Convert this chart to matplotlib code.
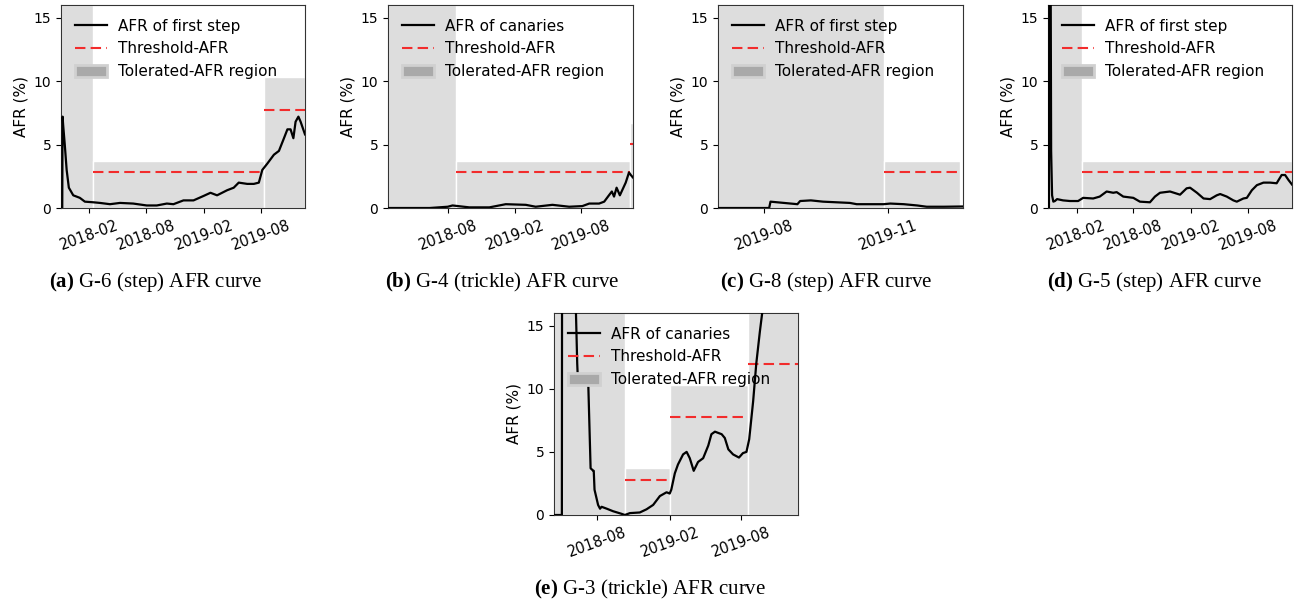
import numpy as np
import pandas as pd
import matplotlib
matplotlib.use("Agg")
import matplotlib.pyplot as plt
import matplotlib.dates as mdates
from matplotlib.lines import Line2D
from matplotlib.patches import Patch

plt.rcParams['font.family'] = 'DejaVu Sans'
plt.rcParams['font.size'] = 10
plt.rcParams['mathtext.fontset'] = 'custom'
plt.rcParams['mathtext.rm'] = 'Liberation Serif'
plt.rcParams['mathtext.bf'] = 'Liberation Serif:bold'
plt.rcParams['axes.edgecolor'] = '#333333'

# =========================
# (a) G-6 (step)
# =========================
a_dates = ['2017-11-03', '2017-11-07', '2017-11-08', '2017-11-10', '2017-11-15', '2017-11-21',
           '2017-11-28', '2017-12-12', '2018-01-02', '2018-01-18', '2018-02-14', '2018-03-07',
           '2018-04-08', '2018-05-10', '2018-06-21', '2018-08-03', '2018-09-04', '2018-10-06',
           '2018-10-27', '2018-11-28', '2018-12-30', '2019-01-31', '2019-02-22', '2019-03-15',
           '2019-04-16', '2019-05-07', '2019-05-23', '2019-06-19', '2019-07-10', '2019-07-26',
           '2019-08-06', '2019-08-22', '2019-09-12', '2019-09-28', '2019-10-14', '2019-10-25',
           '2019-11-04', '2019-11-13', '2019-11-20', '2019-11-29', '2019-12-06', '2019-12-20']
a_afr = [0, 0, 7.2, 6.5, 5.0, 3.0, 1.6, 1.0, 0.8, 0.5, 0.45, 0.4, 0.3, 0.4, 0.35, 0.2, 0.2, 0.35,
         0.3, 0.6, 0.6, 0.95, 1.2, 1.0, 1.4, 1.6, 2.0, 1.9, 1.9, 2.0, 3.0, 3.5, 4.2, 4.5, 5.5, 6.2,
         6.2, 5.5, 6.8, 7.2, 6.8, 5.8]
a_bounds = ['2017-11-03', '2018-02-14', '2019-08-11', '2019-12-20']
a_tops = [16, 3.73, 10.3]
a_thr = [np.nan, 2.8, 7.76]

# =========================
# (b) G-4 (trickle)
# =========================
b_dates = ['2018-02-18', '2018-06-12', '2018-08-01', '2018-08-14', '2018-09-29', '2018-11-23',
           '2019-01-07', '2019-03-03', '2019-03-30', '2019-05-15', '2019-06-30', '2019-08-05',
           '2019-08-24', '2019-09-20', '2019-10-04', '2019-10-17', '2019-10-25', '2019-10-31',
           '2019-11-07', '2019-11-16', '2019-11-24', '2019-12-02', '2019-12-11', '2019-12-16',
           '2019-12-22']
b_afr = [0, 0, 0.1, 0.2, 0.05, 0.05, 0.3, 0.25, 0.1, 0.25, 0.1, 0.15, 0.35, 0.35, 0.5, 1.0, 1.3,
         0.9, 1.6, 1.0, 1.5, 2.0, 2.8, 2.6, 2.4]
b_bounds = ['2018-02-18', '2018-08-24', '2019-12-14', '2019-12-22']
b_tops = [16, 3.73, 6.73]
b_thr = [np.nan, 2.8, 5.05]

# =========================
# (c) G-8 (step)
# =========================
c_dates = ['2019-06-28', '2019-08-05', '2019-08-06', '2019-08-26', '2019-08-28', '2019-09-05',
           '2019-09-14', '2019-09-24', '2019-10-04', '2019-10-09', '2019-10-24', '2019-10-29',
           '2019-11-03', '2019-11-13', '2019-11-23', '2019-11-30', '2019-12-13', '2019-12-27']
c_afr = [0, 0, 0.5, 0.3, 0.55, 0.6, 0.5, 0.45, 0.4, 0.3, 0.3, 0.3, 0.35, 0.3, 0.2, 0.1, 0.1, 0.12]
c_bounds = ['2019-06-28', '2019-10-29', '2019-12-25']
c_tops = [16, 3.73]
c_thr = [np.nan, 2.8]

# =========================
# (d) G-5 (step)
# =========================
d_dates = ['2017-11-02', '2017-11-05', '2017-11-08', '2017-11-12', '2017-11-15', '2017-11-19',
           '2017-11-24', '2017-12-01', '2017-12-20', '2018-01-11', '2018-02-06', '2018-02-22',
           '2018-03-26', '2018-04-16', '2018-05-08', '2018-05-29', '2018-06-09', '2018-06-30',
           '2018-08-01', '2018-08-22', '2018-09-23', '2018-10-09', '2018-10-25', '2018-11-26',
           '2018-12-28', '2019-01-18', '2019-01-29', '2019-02-20', '2019-03-13', '2019-04-03',
           '2019-04-24', '2019-05-05', '2019-05-26', '2019-06-16', '2019-06-27', '2019-07-18',
           '2019-07-29', '2019-08-14', '2019-08-30', '2019-09-20', '2019-10-11', '2019-11-01',
           '2019-11-17', '2019-11-28', '2019-12-09', '2019-12-20']
d_afr = [0, 0, 40, 4.5, 1.0, 0.5, 0.55, 0.7, 0.6, 0.55, 0.55, 0.8, 0.75, 0.9, 1.3, 1.2, 1.25, 0.9,
         0.8, 0.5, 0.45, 0.9, 1.2, 1.3, 1.05, 1.55, 1.6, 1.2, 0.75, 0.7, 1.0, 1.1, 0.9, 0.6, 0.5,
         0.75, 0.8, 1.4, 1.8, 2.0, 2.0, 1.95, 2.6, 2.6, 2.2, 1.85]
d_bounds = ['2017-11-02', '2018-02-17', '2019-12-20']
d_tops = [16, 3.73]
d_thr = [np.nan, 2.8]

# =========================
# (e) G-3 (trickle)
# =========================
e_dates = ['2018-04-13', '2018-05-03', '2018-05-04', '2018-06-06', '2018-06-07', '2018-06-11',
           '2018-06-13', '2018-07-09', '2018-07-15', '2018-07-22', '2018-07-23', '2018-07-25',
           '2018-08-03', '2018-08-08', '2018-08-12', '2018-08-25', '2018-09-10', '2018-10-01',
           '2018-10-10', '2018-10-23', '2018-11-17', '2018-12-04', '2018-12-21', '2019-01-07',
           '2019-01-24', '2019-02-01', '2019-02-05', '2019-02-14', '2019-02-22', '2019-03-07',
           '2019-03-16', '2019-03-24', '2019-04-03', '2019-04-14', '2019-04-27', '2019-05-10',
           '2019-05-18', '2019-05-27', '2019-06-13', '2019-06-21', '2019-06-30', '2019-07-12',
           '2019-07-27', '2019-08-06', '2019-08-15', '2019-08-22', '2019-09-01', '2019-09-09',
           '2019-09-18', '2019-09-26', '2019-11-01', '2019-12-24']
e_afr = [0, 0, 40, 40, 17, 12, 10.5, 10.5, 3.7, 3.5, 3.5, 2.0, 0.8, 0.5, 0.65, 0.5, 0.3, 0.1, 0.0,
         0.15, 0.2, 0.45, 0.8, 1.5, 1.8, 1.7, 2.0, 3.3, 4.0, 4.8, 5.0, 4.5, 3.5, 4.2, 4.5, 5.5, 6.4,
         6.6, 6.4, 6.1, 5.2, 4.8, 4.55, 4.9, 5.0, 6.0, 9.0, 12.0, 14.5, 16.5, 22, 26]
e_bounds = ['2018-04-13', '2018-10-10', '2019-02-01', '2019-08-20', '2019-12-24']
e_tops = [16, 3.73, 10.3, 16]
e_thr = [np.nan, 2.8, 7.76, 12.0]

curve_labels = ['AFR of first step', 'AFR of canaries', 'AFR of first step',
                'AFR of first step', 'AFR of canaries']
captions = [(r'$\mathbf{(a)}$', 'G-6 (step) AFR curve'),
            (r'$\mathbf{(b)}$', 'G-4 (trickle) AFR curve'),
            (r'$\mathbf{(c)}$', 'G-8 (step) AFR curve'),
            (r'$\mathbf{(d)}$', 'G-5 (step) AFR curve'),
            (r'$\mathbf{(e)}$', 'G-3 (trickle) AFR curve')]

W, H = 1296, 605
fig = plt.figure(figsize=(W / 100, H / 100), dpi=100)

# axes boxes in pixels: left, top, right, bottom
boxes = [(61, 5, 305, 208), (388, 5, 633, 208), (718, 5, 963, 208),
         (1048, 5, 1292, 208), (554, 313, 798, 515)]
cap_pos = [(156, 282), (502, 282), (826, 282), (1154, 282), (650, 589)]

RED = '#f22c2c'
DASH = (5, 2.5)


def draw(ax, dates, afr, bounds, tops, thr, label, months):
    d = pd.to_datetime(dates)
    b = pd.to_datetime(bounds)
    for i in range(len(tops)):
        ax.fill_between([b[i], b[i + 1]], 0, tops[i], facecolor='#dddddd',
                        edgecolor='white', linewidth=1, zorder=1)
        if not np.isnan(thr[i]):
            ax.plot([b[i], b[i + 1]], [thr[i], thr[i]], color=RED,
                    ls=(0, DASH), lw=1.5, zorder=2)
    ax.plot(d, afr, color='black', lw=1.6, zorder=3)
    ax.set_xlim(d[0], d[-1])
    ax.set_ylim(0, 16)
    ax.set_yticks([0, 5, 10, 15])
    ax.xaxis.set_major_locator(mdates.MonthLocator(bymonth=months))
    ax.xaxis.set_major_formatter(mdates.DateFormatter('%Y-%m'))
    ax.tick_params(axis='x', labelsize=10.5)
    ax.tick_params(axis='y', labelsize=10)
    plt.setp(ax.get_xticklabels(), rotation=20)
    ax.set_ylabel('AFR (%)', fontsize=11)
    handles = [Line2D([], [], color='black', lw=1.6),
               Line2D([], [], color=RED, ls=(0, DASH), lw=1.5),
               Patch(facecolor='#a9a9a9', edgecolor='#d0d0d0', lw=2)]
    ax.legend(handles, [label, 'Threshold-AFR', 'Tolerated-AFR region'],
              loc='upper left', frameon=False, fontsize=11,
              handlelength=2.1, handleheight=0.8, handletextpad=0.75,
              labelspacing=0.5)


data = [(a_dates, a_afr, a_bounds, a_tops, a_thr, [2, 8]),
        (b_dates, b_afr, b_bounds, b_tops, b_thr, [2, 8]),
        (c_dates, c_afr, c_bounds, c_tops, c_thr, [2, 5, 8, 11]),
        (d_dates, d_afr, d_bounds, d_tops, d_thr, [2, 8]),
        (e_dates, e_afr, e_bounds, e_tops, e_thr, [2, 8])]

for k in range(5):
    l, t, r, bt = boxes[k]
    ax = fig.add_axes([l / W, 1 - bt / H, (r - l) / W, (bt - t) / H])
    dates, afr, bounds, tops, thr, months = data[k]
    draw(ax, dates, afr, bounds, tops, thr, curve_labels[k], months)
    cx, cy = cap_pos[k]
    fig.text(cx / W, 1 - cy / H, captions[k][0] + ' ' + captions[k][1],
             family='Liberation Serif', fontsize=15, ha='center', va='center')

fig.savefig('out.png', dpi=100)
